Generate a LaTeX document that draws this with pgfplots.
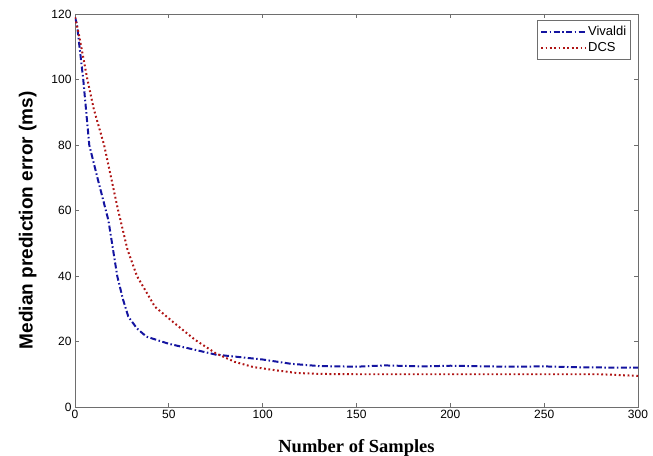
\documentclass[border=0pt]{standalone}
\usepackage{fontspec}
\setmainfont{Liberation Sans}
\newfontfamily\timesbold{Liberation Serif}
\usepackage{pgfplots}
\pgfplotsset{compat=1.18}

\definecolor{viv}{RGB}{20,20,160}
\definecolor{dcs}{RGB}{175,20,20}
\definecolor{axgray}{RGB}{110,110,110}

\begin{document}
\begin{tikzpicture}
\useasboundingbox (-75bp,-49bp) rectangle (578bp,407bp);
\begin{axis}[
  scale only axis,
  width=563bp,
  height=393bp,
  xmin=0, xmax=300,
  ymin=0, ymax=120,
  xtick={0,50,...,300},
  ytick={0,20,...,120},
  tick align=inside,
  major tick length=4bp,
  axis line style={axgray, line width=0.8pt},
  tick style={axgray, line width=0.8pt},
  ticklabel style={font=\fontsize{12bp}{14bp}\selectfont},
  /pgf/number format/assume math mode=true,
  xlabel={\timesbold\bfseries Number of Samples},
  xlabel style={font=\fontsize{18.5bp}{21bp}\selectfont, yshift=-14bp},
  ylabel={\bfseries Median prediction error (ms)},
  ylabel style={font=\fontsize{19bp}{22bp}\selectfont, yshift=8bp,
    at={(ticklabel cs:0.475)}},
  legend style={at={(1,1)}, anchor=north east, xshift=-7bp, yshift=-6bp,
    draw=axgray, line width=0.6pt,
    font=\fontsize{13bp}{15bp}\selectfont, inner xsep=2.5bp, inner ysep=4bp,
    row sep=1.5bp, cells={anchor=west}},
  legend image code/.code={\draw[#1] (0bp,0bp) -- (38bp,0bp);
    \path (0bp,0bp) -- (44bp,0bp);},
  legend cell align=left,
]
\addplot[viv, line width=2pt, dash pattern=on 6pt off 2.5pt on 1.5pt off 2.5pt] coordinates {
  (0,119) (1,117) (4.4,100) (7.6,80) (12.4,69) (17.8,57) (22.5,40)
  (25.5,33) (28.4,27.6) (33,24) (38,21.5) (50,19.3) (75,16) (100,14.5)
  (115,13.2) (130,12.5) (150,12.3) (165,12.7) (185,12.4) (200,12.6)
  (230,12.3) (250,12.4) (270,12.1) (300,12)
};
\addlegendentry{Vivaldi}
\addplot[dcs, line width=2pt, dash pattern=on 1.8pt off 2.6pt] coordinates {
  (0,119) (2,114) (6.6,100) (10,91) (15.5,80) (23,60) (28,48) (33,40)
  (42.6,30.6) (53,25.6) (64,20.5) (75,16.4) (85,13.8) (95,12.2)
  (107,11.2) (118,10.4) (130,10.1) (150,10) (200,10) (250,10)
  (280,10) (300,9.5)
};
\addlegendentry{DCS}
\end{axis}
\end{tikzpicture}
\end{document}
